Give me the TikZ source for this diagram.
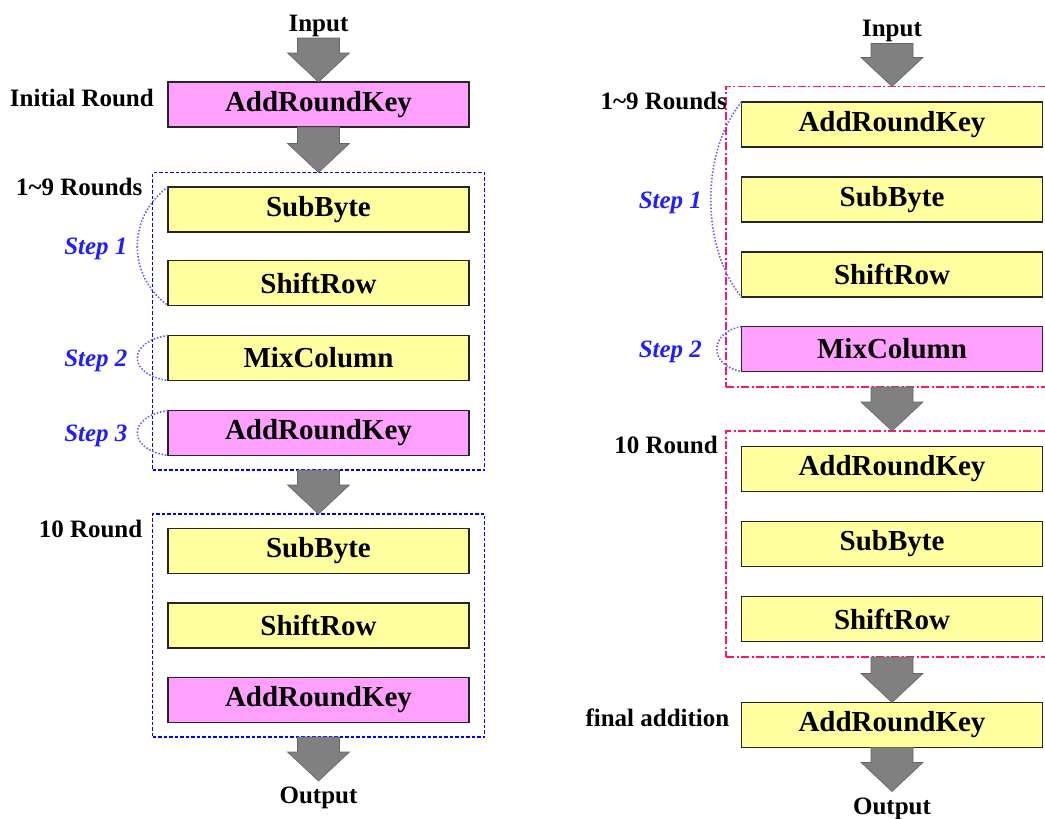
\documentclass[tikz,border=0pt]{standalone}
\usepackage{fontspec}
\setmainfont{Liberation Serif}
\usepackage{tikz}
\usetikzlibrary{calc,positioning,fit}

\definecolor{keypink}{RGB}{255,160,255}
\definecolor{stepyellow}{RGB}{255,255,160}
\definecolor{stepblue}{RGB}{30,30,255}
\definecolor{roundred}{RGB}{255,20,110}

% big gray block arrow between two nodes
\newcommand{\flowarrow}[2]{%
  \path[flow] let \p1 = (#1), \p2 = (#2) in
    (\x2-21pt,\y1) -- (\x2+21pt,\y1) -- (\x2+21pt,\y2+29pt) -- (\x2+31pt,\y2+29pt)
    -- (\x2,\y2) -- (\x2-31pt,\y2+29pt) -- (\x2-21pt,\y2+29pt) -- cycle;}

\begin{document}
\begin{tikzpicture}[x=1pt, y=-1pt,
    stage/.style={rectangle, draw=black!85, line width=1.5pt, minimum width=301pt, minimum height=45pt,
                  inner sep=0pt, outer sep=0pt, font=\fontsize{29}{31}\selectfont\bfseries},
    sub/.style={stage, fill=stepyellow},
    key/.style={stage, fill=keypink},
    lbl/.style={inner sep=1pt, font=\fontsize{25}{27}\selectfont\bfseries},
    outlbl/.style={lbl, inner ysep=6pt},
    steplbl/.style={inner sep=0pt, yshift=-3pt, text=stepblue, font=\fontsize{25}{27}\selectfont\bfseries\itshape},
    brace/.style={draw=stepblue!70, dash pattern=on 1.5pt off 1.8pt, line width=1.6pt},
    bluegroup/.style={draw=blue, dash pattern=on 3.5pt off 2pt, line width=1.6pt, outer sep=0pt,
                      inner xsep=15.5pt, inner ysep=14.5pt},
    redgroup/.style={draw=roundred, dash pattern=on 8pt off 2.5pt on 2pt off 2.5pt, line width=1.6pt,
                     outer sep=0pt, inner sep=15.5pt},
    flow/.style={fill=black!50, draw=black!60, line width=0.6pt}]
  \useasboundingbox (0,0) rectangle (1045,819);

  % ---- left column ----
  \node[key] (ark0) at (318.5,104.5) {AddRoundKey};
  \node[lbl, above=44pt of ark0] (inL) {Input};
  \node[sub, below=60pt of ark0] (sbL) {SubByte};
  \node[sub, below=28.5pt of sbL] (srL) {ShiftRow};
  \node[sub, below=30pt of srL] (mcL) {MixColumn};
  \node[key, below=30pt of mcL] (arkL) {AddRoundKey};
  \node[bluegroup, fit=(sbL)(arkL)] (roundsL) {};
  \node[sub, below=73pt of arkL] (sbL10) {SubByte};
  \node[sub, below=29.5pt of sbL10] (srL10) {ShiftRow};
  \node[key, below=29.5pt of srL10] (arkL10) {AddRoundKey};
  \node[bluegroup, fit=(sbL10)(arkL10)] (lastL) {};
  \node[outlbl, below=44pt of lastL] (outL) {Output};

  \node[lbl, anchor=east] at ([xshift=-13pt,yshift=7pt]ark0.west) {Initial Round};
  \node[lbl, anchor=east] at ([xshift=-9pt,yshift=-14pt]roundsL.north west) {1\textasciitilde9 Rounds};
  \node[lbl, anchor=east] at ([xshift=-9pt,yshift=-15pt]lastL.north west) {10 Round};

  \draw[brace] (sbL.north west) .. controls +(-41,30) and +(-41,-30) .. node[steplbl, left=9pt] {Step 1} (srL.south west);
  \draw[brace] (mcL.north west) .. controls +(-41,6) and +(-41,-6) .. node[steplbl, left=9pt] {Step 2} (mcL.south west);
  \draw[brace] (arkL.north west) .. controls +(-41,6) and +(-41,-6) .. node[steplbl, left=9pt] {Step 3} (arkL.south west);

  \flowarrow{inL.south}{ark0.north}
  \flowarrow{ark0.south}{roundsL.north}
  \flowarrow{roundsL.south}{lastL.north}
  \flowarrow{lastL.south}{outL.north}

  % ---- right column ----
  \node[sub] (arkR) at (892,124.5) {AddRoundKey};
  \node[sub, below=30pt of arkR] (sbR) {SubByte};
  \node[sub, below=30pt of sbR] (srR) {ShiftRow};
  \node[key, below=29.5pt of srR] (mcR) {MixColumn};
  \node[redgroup, fit=(arkR)(mcR)] (roundsR) {};
  \node[lbl, above=43pt of roundsR] (inR) {Input};
  \node[sub, below=75pt of mcR] (arkR10) {AddRoundKey};
  \node[sub, below=30pt of arkR10] (sbR10) {SubByte};
  \node[sub, below=30pt of sbR10] (srR10) {ShiftRow};
  \node[redgroup, fit=(arkR10)(srR10)] (lastR) {};
  \node[sub, below=61pt of srR10] (arkF) {AddRoundKey};
  \node[outlbl, below=44pt of arkF] (outR) {Output};

  \node[lbl, anchor=east] at ([xshift=2pt,yshift=-14pt]roundsR.north west) {1\textasciitilde9 Rounds};
  \node[lbl, anchor=east] at ([xshift=-7pt,yshift=-14pt]lastR.north west) {10 Round};
  \node[lbl, anchor=east] at ([xshift=-11pt,yshift=7pt]arkF.west) {final addition};

  \draw[brace] (arkR.north west) .. controls +(-41,50) and +(-41,-50) .. node[steplbl, left=8pt] {Step 1} (srR.south west);
  \draw[brace] (mcR.north west) .. controls +(-33,6) and +(-33,-6) .. node[steplbl, left=14pt] {Step 2} (mcR.south west);

  \flowarrow{inR.south}{roundsR.north}
  \flowarrow{roundsR.south}{lastR.north}
  \flowarrow{lastR.south}{arkF.north}
  \flowarrow{arkF.south}{outR.north}
\end{tikzpicture}
\end{document}
